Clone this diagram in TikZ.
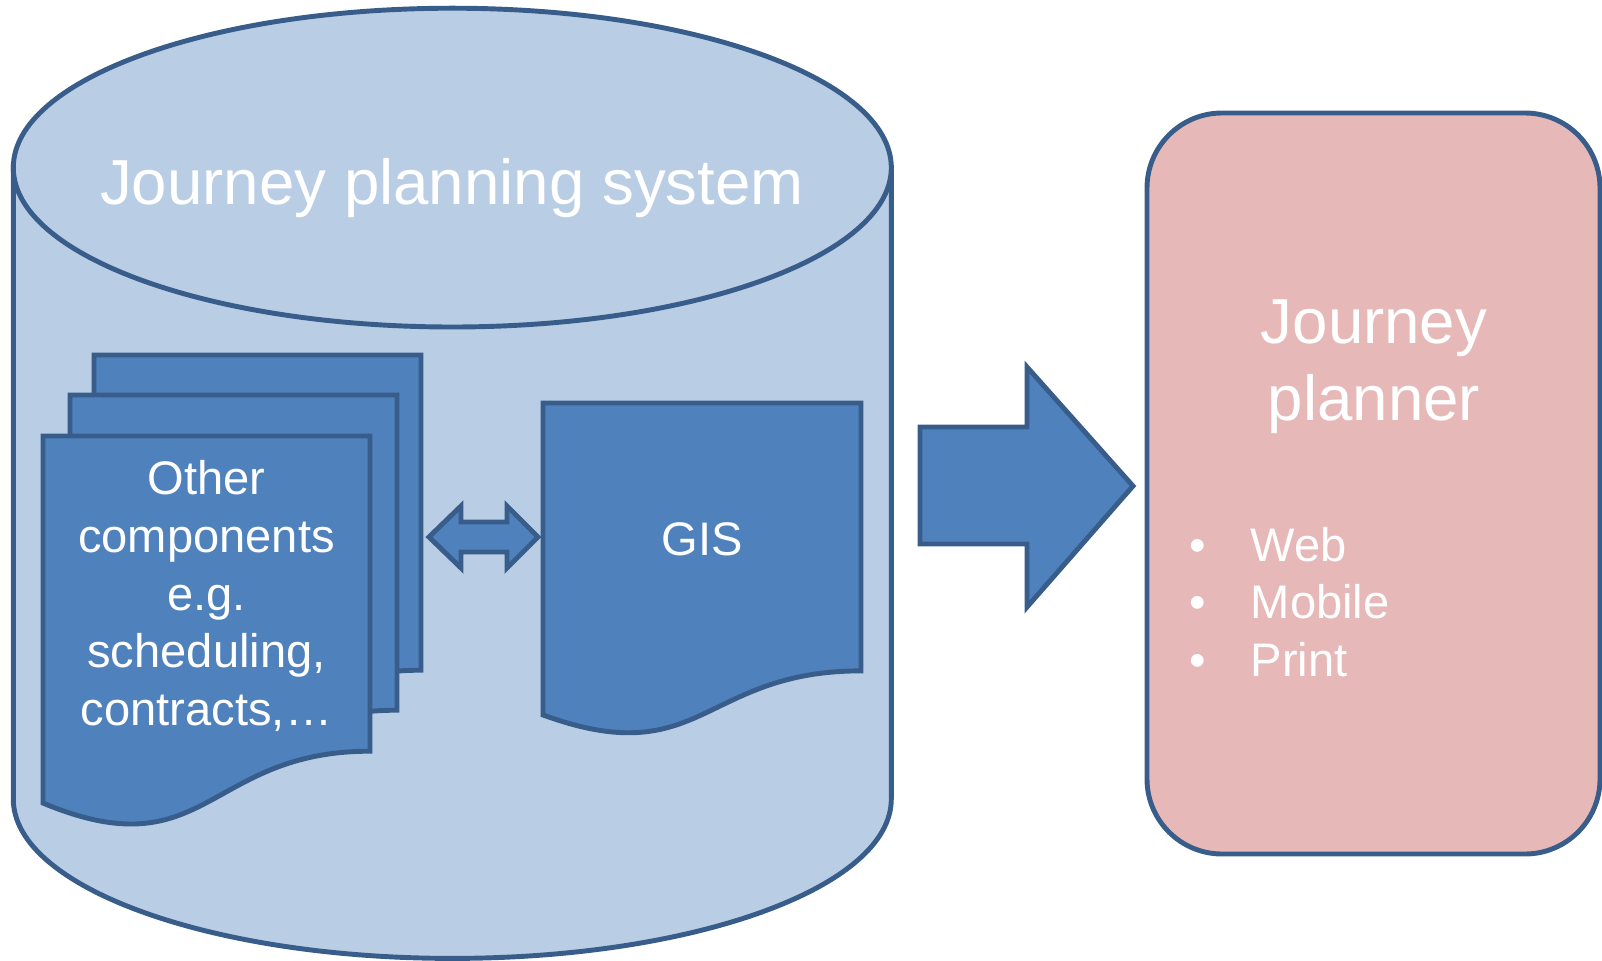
\documentclass[tikz,border=0pt]{standalone}
\usepackage{fontspec}
\setmainfont{Liberation Sans}
\usetikzlibrary{positioning}
\definecolor{dbfill}{RGB}{185,205,229}
\definecolor{edge}{RGB}{56,93,138}
\definecolor{docfill}{RGB}{79,129,189}
\definecolor{appfill}{RGB}{230,185,184}
\tikzset{
    outline/.style={
        draw=edge,
        line width=1.4pt,
    },
    % Database cylinder
    db/.style={
        outline,
        fill=dbfill,
    },
    % Document pages
    page/.style={
        outline,
        fill=docfill,
    },
    % Block arrows
    blockarrow/.style={
        outline,
        fill=docfill,
    },
    % Front end box
    app/.style={
        outline,
        fill=appfill,
        rounded corners=0.75cm,
    },
    % Texts
    bigtext/.style={
        text=white,
        inner sep=0pt,
        align=center,
        font=\fontsize{18.1}{21.9}\selectfont,
    },
    smalltext/.style={
        text=white,
        inner sep=0pt,
        align=center,
        font=\fontsize{13.4}{16.4}\selectfont,
    },
}
% page with a wavy lower edge: #1 = width, #2 = height
\newcommand{\docpage}[2]{%
    \draw[page] (0,0) -- (#1,0) -- (#1,-0.802*#2)
        .. controls (0.5*#1,-0.802*#2) and (0.5*#1,-1.1075*#2) .. (0,-0.934*#2) -- cycle;
}

\begin{document}
\begin{tikzpicture}
\useasboundingbox (0,0) rectangle (16.02,9.6);

% Database cylinder
\draw[db] (0.133,7.924) -- (0.133,1.61)
    arc[start angle=180, end angle=360, x radius=4.39, y radius=1.594]
    -- (8.913,7.924) -- cycle;
\draw[db] (4.523,7.924) ellipse[x radius=4.39, y radius=1.594];
\node[bigtext, anchor=base] (title) at (4.52,7.56) {Journey planning system};

% Stack of pages
\begin{scope}[shift={(0.94,6.05)}]
    \docpage{3.27}{3.93}
\end{scope}
\begin{scope}[shift={(0.70,5.65)}]
    \docpage{3.27}{3.93}
\end{scope}
\begin{scope}[shift={(0.43,5.24)}]
    \docpage{3.27}{3.93}
\end{scope}
\node[smalltext] (comp) at (2.065,3.64) {Other\\components\\e.g.\\scheduling,\\contracts,…};

% GIS page
\begin{scope}[shift={(5.43,5.57)}]
    \docpage{3.18}{3.34}
\end{scope}
\node[smalltext] (gis) at (7.02,4.21) {GIS};

% Two-way arrow between the pages
\draw[blockarrow] (4.29,4.23) -- (4.61,4.54) -- (4.61,4.38) -- (5.07,4.38) -- (5.07,4.54)
    -- (5.38,4.23) -- (5.07,3.92) -- (5.07,4.08) -- (4.61,4.08) -- (4.61,3.92) -- cycle;

% Arrow to the front end
\draw[blockarrow] (9.20,5.33) -- (10.27,5.33) -- (10.27,5.93) -- (11.33,4.74)
    -- (10.27,3.53) -- (10.27,4.16) -- (9.20,4.16) -- cycle;

% Front end
\draw[app] (11.47,1.06) rectangle (16.00,8.47);
\node[bigtext] (planner) at (13.74,5.93) {Journey\\planner};
\node[smalltext, align=left, anchor=west] (outputs) at (11.89,3.58)
    {\makebox[1.3em][l]{\textbullet}Web\\
     \makebox[1.3em][l]{\textbullet}Mobile\\
     \makebox[1.3em][l]{\textbullet}Print};
\end{tikzpicture}
\end{document}
